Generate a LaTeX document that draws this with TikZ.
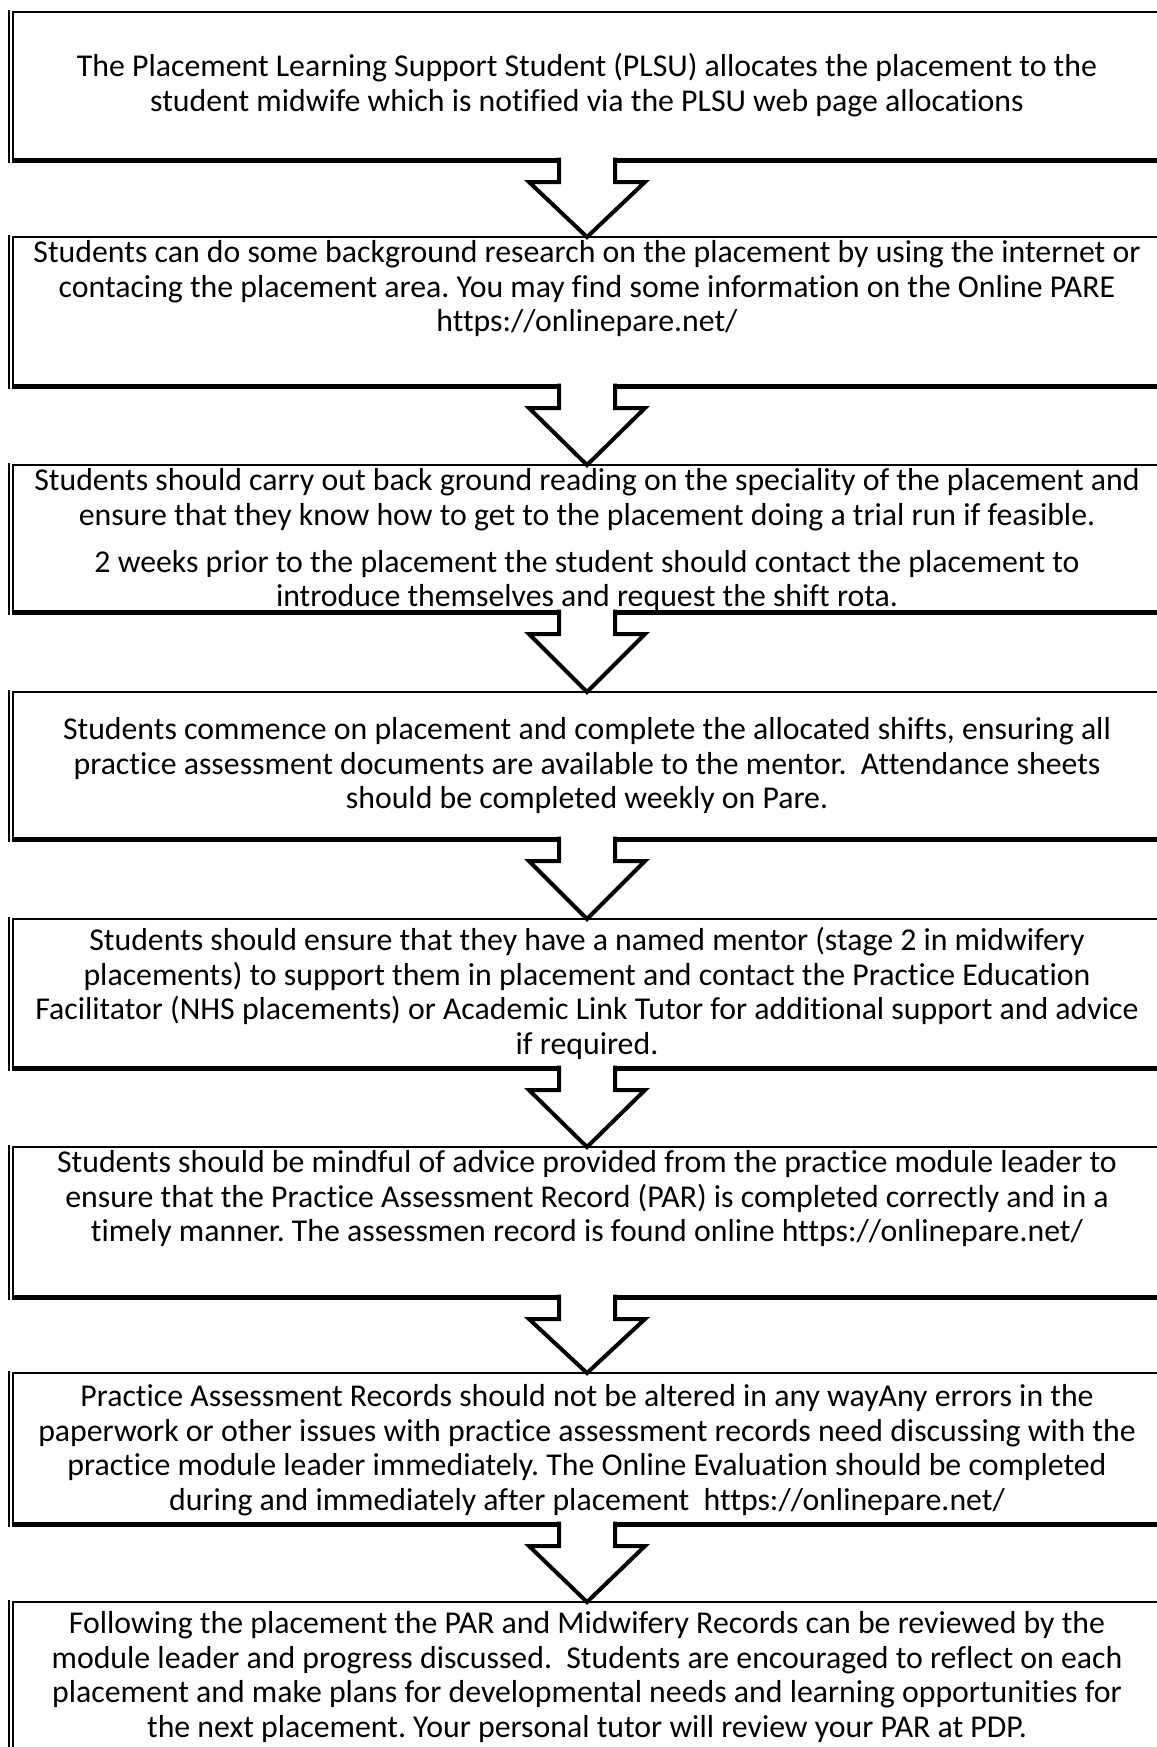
\documentclass[tikz,border=0pt]{standalone}
\usepackage{fontspec}
\setmainfont{Carlito}[Ligatures={NoCommon,NoContextual}]
\usetikzlibrary{calc}
\newcommand\fstrut{\rule{0pt}{13pt}}
\newcommand\flowbox[3]{%
  \path (587,{(#2+#3)/2}) node[boxarea, minimum height={(#3-#2)*0.5pt}] (#1) {};
  \draw[outerline] ($(#1.north west)+(-4,-2)$) -- ($(#1.south west)+(-4,2.5)$);
  \draw[frameline] (#1.south west) -- (#1.north west) -- (#1.north east) -- (#1.south east);
  \draw[bottomline] ($(#1.south west)+(-1,0)$) -- ($(#1.south east)+(1,0)$);
}
\newcommand\flowarrow[2]{%
  \filldraw[arrowline] ($(#1.south)+(-28,-2.5)$) -- ($(#1.south)+(-28,22)$) -- ($(#1.south)+(-58,22)$)
    -- (#2.north) -- ($(#1.south)+(58,22)$) -- ($(#1.south)+(28,22)$) -- ($(#1.south)+(28,-2.5)$);
}
\begin{document}
\begin{tikzpicture}[x=0.5pt,y=-0.5pt,
  boxarea/.style={inner sep=0pt,outer sep=0pt,minimum width=574pt},
  outerline/.style={line width=0.8pt},
  frameline/.style={line width=1pt},
  bottomline/.style={line width=2.5pt},
  arrowline/.style={line width=2pt,fill=white,draw=black,line join=miter},
  steptext/.style={anchor=north,align=center,inner sep=0pt,
    font=\fontsize{15.9pt}{17.3pt}\selectfont\frenchspacing}
]
\fill[white] (0,0) rectangle (1157,1747);
\useasboundingbox (0,0) rectangle (1157,1747);
\begin{scope}
\clip (0,0) rectangle (1157,1747);
\flowbox{b1}{12}{160}
\flowbox{b2}{237}{386}
\flowbox{b3}{465}{612}
\flowbox{b4}{692}{839}
\flowbox{b5}{919}{1068}
\flowbox{b6}{1147}{1297}
\flowbox{b7}{1373}{1524}
\flowbox{b8}{1602}{1800}

\flowarrow{b1}{b2}
\flowarrow{b2}{b3}
\flowarrow{b3}{b4}
\flowarrow{b4}{b5}
\flowarrow{b5}{b6}
\flowarrow{b6}{b7}
\flowarrow{b7}{b8}

\node[steptext] (t1) at (587,50) {\fstrut The Placement Learning Support Student (PLSU) allocates the placement to the\\
student midwife which is notified via the PLSU web page allocations};
\node[steptext] (t2) at (587,236) {\fstrut Students can do some background research on the placement by using the internet or\\
contacing the placement area. You may find some information on the Online PARE\\
https://onlinepare.net/};
\node[steptext] (t3) at (587,464) {\fstrut Students should carry out back ground reading on the speciality of the placement and\\
ensure that they know how to get to the placement doing a trial run if feasible.\\[6.2pt]
2 weeks prior to the placement the student should contact the placement to\\
introduce themselves and request the shift rota.};
\node[steptext] (t4) at (587,713) {\fstrut Students commence on placement and complete the allocated shifts, ensuring all\\
practice assessment documents are available to the mentor.~ Attendance sheets\\
should be completed weekly on Pare.};
\node[steptext] (t5) at (587,924) {\fstrut Students should ensure that they have a named mentor (stage 2 in midwifery\\
placements) to support them in placement and contact the Practice Education\\
Facilitator (NHS placements) or Academic Link Tutor for additional support and advice\\
if required.};
\node[steptext] (t6) at (587,1146) {\fstrut Students should be mindful of advice provided from the practice module leader to\\
ensure that the Practice Assessment Record (PAR) is completed correctly and in a\\
timely manner. The assessmen record is found online https://onlinepare.net/};
\node[steptext] (t7) at (587,1380) {\fstrut Practice Assessment Records should not be altered in any wayAny errors in the\\
paperwork or other issues with practice assessment records need discussing with the\\
practice module leader immediately. The Online Evaluation should be completed\\
during and immediately after placement~ https://onlinepare.net/};
\node[steptext] (t8) at (587,1607) {\fstrut Following the placement the PAR and Midwifery Records can be reviewed by the\\
module leader and progress discussed.~ Students are encouraged to reflect on each\\
placement and make plans for developmental needs and learning opportunities for\\
the next placement. Your personal tutor will review your PAR at PDP.};
\end{scope}
\end{tikzpicture}
\end{document}
